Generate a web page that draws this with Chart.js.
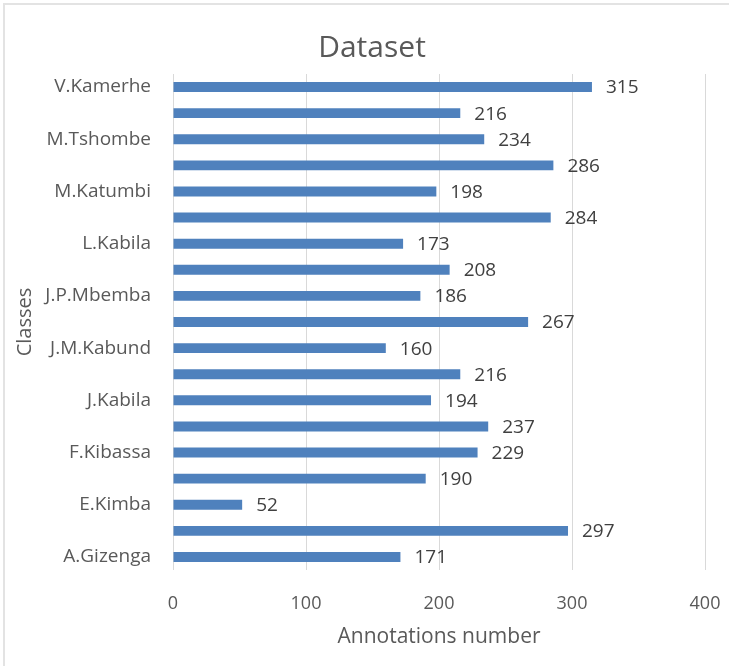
<!DOCTYPE html>
<html>
<head>
<meta charset="utf-8">
<script src="https://cdn.jsdelivr.net/npm/chart.js@4/dist/chart.umd.min.js"></script>
<style>
    html, body { margin: 0; padding: 0; background: #ffffff; }
    #wrap { position: relative; width: 729px; height: 666px; }
    #frame { position: absolute; left: 3px; top: 3px; right: 0; bottom: 0; border-left: 2px solid #e3e3e3; border-top: 2px solid #e3e3e3; }
    canvas { position: absolute; left: 0; top: 0; }
</style>
</head>
<body>
<div id="wrap">
    <div id="frame"></div>
    <canvas id="classChart" width="729" height="666"></canvas>
</div>
<script>
(function() {

    // top to bottom, as in the picture (odd rows have no visible label)
    const classLabels = ['V.Kamerhe', 'P.Lumumba', 'M.Tshombe', 'M.Sese Seko', 'M.Katumbi', 'L.Kengo', 'L.Kabila', 'J.Sendwe',
        'J.P.Mbemba', 'J.Mobutu', 'J.M.Kabund', 'J.Kasavubu', 'J.Kabila', 'F.Tshisekedi', 'F.Kibassa', 'E.Tshisekedi',
        'E.Kimba', 'A.Muzito', 'A.Gizenga'];
    const annotationCounts = [315, 216, 234, 286, 198, 284, 173, 208, 186, 267, 160, 216, 194, 237, 229, 190, 52, 297, 171];
    const xTicks = [0, 100, 200, 300, 400];

    const textGray = '#595959';
    const fontFamily = '"Open Sans", sans-serif';

    // value label just past the end of each bar
    const barValues = {
        id: 'barValues',
        afterDatasetsDraw(chart) {
            const ctx = chart.ctx;
            const meta = chart.getDatasetMeta(0);
            ctx.save();
            ctx.font = '19px ' + fontFamily;
            ctx.fillStyle = '#404040';
            ctx.textAlign = 'left';
            ctx.textBaseline = 'middle';
            meta.data.forEach((bar, i) => {
                ctx.fillText(String(annotationCounts[i]), bar.x + 14, bar.y + 1);
            });
            ctx.restore();
        }
    };

    new Chart(document.getElementById('classChart'), {
        type: 'bar',
        data: {
            labels: classLabels,
            datasets: [{
                data: annotationCounts,
                backgroundColor: '#4f81bd',
                borderWidth: 0,
                barPercentage: 0.38,
                categoryPercentage: 1
            }]
        },
        options: {
            indexAxis: 'y',
            responsive: false,
            animation: false,
            layout: { padding: { left: 19, right: 4, top: 10, bottom: 10 } },
            plugins: {
                legend: { display: false },
                tooltip: { enabled: false },
                title: {
                    display: true,
                    text: 'Dataset',
                    color: textGray,
                    font: { family: fontFamily, size: 30, weight: 'normal' },
                    padding: { top: 20, bottom: 8 }
                }
            },
            scales: {
                x: {
                    type: 'linear',
                    min: 0,
                    max: 400,
                    afterBuildTicks: (scale) => { scale.ticks = xTicks.map(v => ({ value: v })); },
                    afterFit: (scale) => { scale.height = 86; scale.paddingRight = 24; scale.paddingLeft = 0; },
                    grid: { color: '#d9d9d9', drawTicks: false },
                    border: { display: false },
                    ticks: { color: textGray, padding: 23, font: { family: fontFamily, size: 18 } },
                    title: {
                        display: true,
                        text: 'Annotations number',
                        color: textGray,
                        font: { family: fontFamily, size: 21 },
                        padding: { top: 0, bottom: 6 }
                    }
                },
                y: {
                    afterFit: (scale) => { scale.width = 154; },
                    grid: { display: false, drawTicks: false },
                    border: { display: false },
                    ticks: {
                        autoSkip: false,
                        color: textGray,
                        padding: 22,
                        font: { family: fontFamily, size: 19 },
                        callback: function(v, i) { return i % 2 === 0 ? this.getLabelForValue(v) : ''; }
                    },
                    title: {
                        display: true,
                        text: 'Classes',
                        color: textGray,
                        font: { family: fontFamily, size: 20 },
                        padding: { top: -6, bottom: 0 }
                    }
                }
            }
        },
        plugins: [barValues]
    });

})();
</script>
</body>
</html>
